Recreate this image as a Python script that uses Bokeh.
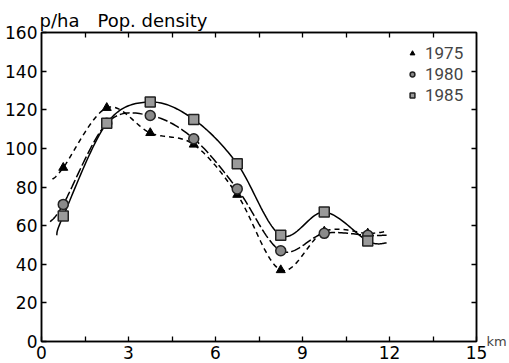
import numpy as np
from bokeh.plotting import figure
from bokeh.models import (Range1d, LinearAxis, FixedTicker, Legend, LegendItem, Title)
from bokeh.embed import file_html
from bokeh.resources import INLINE

# ---- data ----
dist_km = [0.75, 2.25, 3.75, 5.25, 6.75, 8.25, 9.75, 11.25]
dens_1975 = [90, 121, 108, 102, 76, 37, 57, 56]
dens_1980 = [71, 113, 117, 105, 79, 47, 56, 55]
dens_1985 = [65, 113, 124, 115, 92, 55, 67, 52]
# curve ends (lines extend beyond the first/last markers)
curve_start_x = [0.38, 0.30, 0.52]
curve_start_y = [84, 62, 55]
curve_end_x = [11.9, 11.9, 11.9]
curve_end_y = [57, 55, 51]
years = ["1975", "1980", "1985"]
x_ticks = [0, 3, 6, 9, 12, 15]
x_minor = [1.5, 4.5, 7.5, 10.5, 13.5]
y_ticks = [0, 20, 40, 60, 80, 100, 120, 140, 160]
top_ticks = [1.5, 3, 4.5, 6, 7.5, 9, 10.5, 12, 13.5]
right_ticks = [20, 40, 60, 80, 100, 120, 140]
y_unit = "p/ha"
title_text = "Pop. density"
x_unit = "km"


def smooth(xs, ys, n=24):
    P = np.column_stack([xs, ys]).astype(float)
    P = np.vstack([P[0], P, P[-1]])
    out = []
    for i in range(1, len(P) - 2):
        p0, p1, p2, p3 = P[i - 1], P[i], P[i + 1], P[i + 2]
        t = np.linspace(0, 1, n, endpoint=False)[:, None]
        seg = 0.5 * ((2 * p1) + (-p0 + p2) * t + (2 * p0 - 5 * p1 + 4 * p2 - p3) * t ** 2
                     + (-p0 + 3 * p1 - 3 * p2 + p3) * t ** 3)
        out.append(seg)
    out.append(P[-2][None, :])
    a = np.vstack(out)
    return a[:, 0], a[:, 1]


FONT = "DejaVu Sans"

p = figure(width=509, height=363, output_backend="svg", toolbar_location=None,
           x_range=Range1d(0, 15), y_range=Range1d(0, 160),
           min_border_left=41, min_border_right=33, min_border_top=32, min_border_bottom=22,
           x_axis_location=None, y_axis_location=None,
           title=Title(text=y_unit + "\u2003" + title_text, align="left",
                       offset=-2, standoff=3, text_font=FONT, text_font_size="18px",
                       text_font_style="normal", text_color="black"))
p.grid.visible = False
p.outline_line_color = "black"
p.outline_line_width = 1.5
p.background_fill_color = "white"
p.border_fill_color = "white"


def style_axis(ax, ticker):
    ax.ticker = ticker
    ax.axis_line_width = 1.5
    ax.axis_line_color = "black"
    ax.major_tick_in = 5
    ax.major_tick_out = 0
    ax.minor_tick_in = 5
    ax.minor_tick_out = 0
    ax.major_tick_line_width = 1.3
    ax.minor_tick_line_width = 1.3
    ax.major_label_text_font = FONT
    ax.major_label_text_color = "black"
    ax.major_label_text_font_size = "17px"
    ax.major_label_standoff = 4

bottom = LinearAxis(); style_axis(bottom, FixedTicker(ticks=x_ticks, minor_ticks=x_minor)); p.add_layout(bottom, "below")
left = LinearAxis(); style_axis(left, FixedTicker(ticks=y_ticks, minor_ticks=[])); p.add_layout(left, "left")
# top and right: tick marks only (minor ticks carry no labels)
top = LinearAxis(); style_axis(top, FixedTicker(ticks=[], minor_ticks=top_ticks)); p.add_layout(top, "above")
right = LinearAxis(); style_axis(right, FixedTicker(ticks=[], minor_ticks=right_ticks))
right.axis_label = x_unit
right.axis_label_text_font = FONT
right.axis_label_text_font_size = "13px"
right.axis_label_text_font_style = "normal"
right.axis_label_standoff = 10
_props = LinearAxis.properties()
if "axis_label_orientation" in _props:
    right.axis_label_orientation = "horizontal"
if "axis_label_align" in _props:
    right.axis_label_align = "start"
p.add_layout(right, "right")

series = [dens_1975, dens_1980, dens_1985]
dashes = ["5 4", "10 3", "solid"]
for i, ys in enumerate(series):
    cx = [curve_start_x[i]] + dist_km + [curve_end_x[i]]
    cy = [curve_start_y[i]] + ys + [curve_end_y[i]]
    sx, sy = smooth(cx, cy)
    p.line(sx, sy, line_color="black", line_width=1.5, line_dash=dashes[i])

r75 = p.scatter(dist_km, dens_1975, marker="triangle", size=9, fill_color="black", line_color="black")
r80 = p.scatter(dist_km, dens_1980, marker="circle", size=10, fill_color="#8a8a8a", line_color="#222222", line_width=1.5)
r85 = p.scatter(dist_km, dens_1985, marker="square", size=10, fill_color="#9a9a9a", line_color="#222222", line_width=1.5)

legend = Legend(items=[LegendItem(label=years[0], renderers=[r75]),
                       LegendItem(label=years[1], renderers=[r80]),
                       LegendItem(label=years[2], renderers=[r85])],
                location="top_right", border_line_color=None, background_fill_alpha=0,
                label_text_font="Roboto", label_text_font_size="17px",
                glyph_width=12, glyph_height=16, label_height=19, spacing=1,
                label_standoff=7, padding=0, margin=11, label_width=40)
p.add_layout(legend)

open("out.html", "w").write(file_html(p, INLINE))
